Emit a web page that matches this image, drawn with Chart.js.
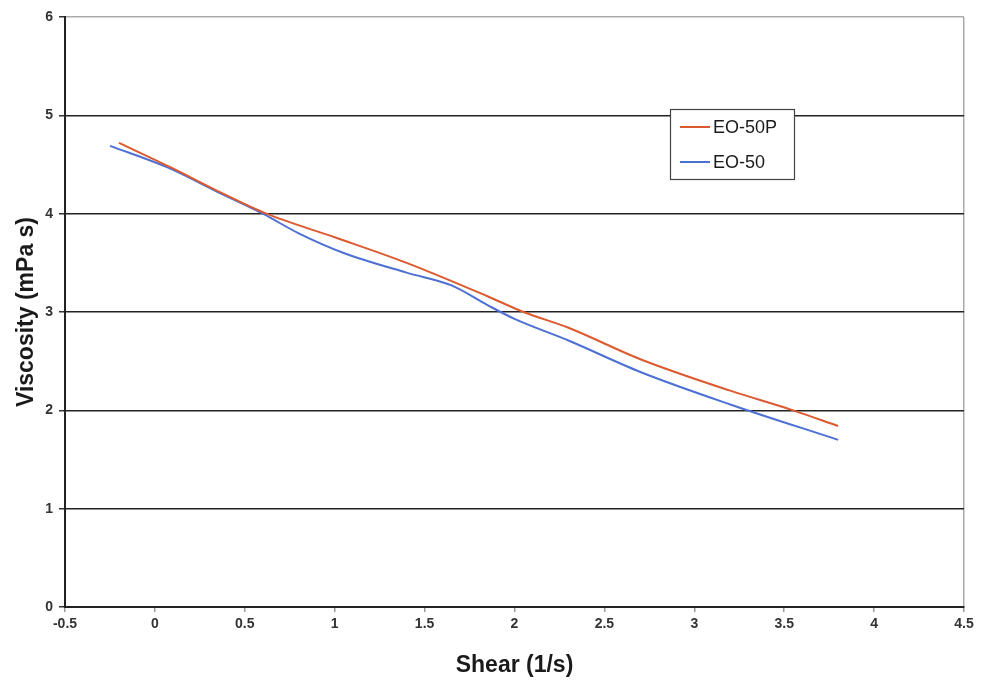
<!DOCTYPE html>
<html>
<head>
<meta charset="utf-8">
<script src="https://cdn.jsdelivr.net/npm/chart.js@4/dist/chart.umd.min.js"></script>
<style>
  html, body { margin: 0; padding: 0; background: #fff; }
  #wrap { width: 981px; height: 680px; }
</style>
</head>
<body>
<div id="wrap"><canvas id="chart" width="981" height="680"></canvas></div>
<script>
// EO-50P run
const eo50pShear = [-0.2, 0.1, 0.35, 0.62, 1.0, 1.4, 1.85, 2.05, 2.3, 2.7, 3.2, 3.55, 3.8]
const eo50pVisc = [4.72, 4.46, 4.23, 4.0, 3.76, 3.5, 3.16, 3.0, 2.84, 2.52, 2.2, 2.0, 1.84]

// EO-50 run
const eo50Shear = [-0.25, 0.07, 0.35, 0.6, 0.8, 1.05, 1.4, 1.65, 1.85, 2.0, 2.3, 2.7, 3.2, 3.8]
const eo50Visc = [4.69, 4.47, 4.22, 4.0, 3.8, 3.6, 3.4, 3.27, 3.07, 2.93, 2.71, 2.39, 2.06, 1.7]

const seriesNames = ['EO-50P', 'EO-50']
const seriesColors = ['#dc5a30', '#4d70d4']

const toPoints = (xs, ys) => xs.map((x, i) => ({ x, y: ys[i] }))

const createDataset = (label, data, color) => ({
  label,
  data,
  showLine: true,
  borderColor: color,
  backgroundColor: color,
  borderWidth: 2,
  pointRadius: 0,
  cubicInterpolationMode: 'monotone',
})

// legend box sitting inside the plot, like the spreadsheet one
const boxLegend = {
  id: 'boxLegend',
  afterDraw(chart) {
    const { ctx } = chart
    const left = 670, top = 109, width = 124, height = 70
    ctx.save()
    ctx.fillStyle = '#fff'
    ctx.fillRect(left, top, width, height)
    ctx.strokeStyle = '#444'
    ctx.lineWidth = 1.2
    ctx.strokeRect(left + 0.5, top + 0.5, width, height)
    ctx.font = '18px "Liberation Sans", Arial, sans-serif'
    ctx.textBaseline = 'middle'
    ctx.fillStyle = '#1a1a1a'
    chart.data.datasets.forEach((ds, i) => {
      const y = top + 18 + i * 35
      ctx.strokeStyle = ds.borderColor
      ctx.lineWidth = 2
      ctx.beginPath()
      ctx.moveTo(left + 10, y)
      ctx.lineTo(left + 40, y)
      ctx.stroke()
      ctx.fillText(ds.label, left + 43, y + 1)
    })
    ctx.restore()
  },
}

const tickFont = { family: '"Liberation Sans", Arial, sans-serif', size: 14, weight: 'bold' }
const titleFont = { family: '"Liberation Sans", Arial, sans-serif', size: 23, weight: 'bold' }

new Chart(document.getElementById('chart'), {
  type: 'scatter',
  data: {
    datasets: [
      createDataset(seriesNames[0], toPoints(eo50pShear, eo50pVisc), seriesColors[0]),
      createDataset(seriesNames[1], toPoints(eo50Shear, eo50Visc), seriesColors[1]),
    ],
  },
  options: {
    responsive: false,
    animation: false,
    layout: { padding: { top: 17, right: 17, left: 0, bottom: 0 } },
    plugins: {
      legend: { display: false },
      tooltip: { enabled: false },
    },
    scales: {
      x: {
        type: 'linear',
        min: -0.5,
        max: 4.5,
        afterFit: (scale) => { scale.height = 73 },
        ticks: {
          stepSize: 0.5,
          color: '#333',
          font: tickFont,
          padding: 4,
          maxRotation: 0,
          callback: (v) => String(v),
        },
        grid: {
          color: (c) => (c.tick && c.tick.value === 4.5 ? '#aaa' : 'rgba(0,0,0,0)'),
          tickColor: '#999',
          tickLength: 5,
          lineWidth: 1.5,
        },
        border: { color: '#222', width: 2 },
        title: {
          display: true,
          text: 'Shear (1/s)',
          color: '#1a1a1a',
          font: titleFont,
          padding: { top: 0, bottom: 1 },
        },
      },
      y: {
        type: 'linear',
        min: 0,
        max: 6,
        afterFit: (scale) => { scale.width = 65 },
        ticks: {
          stepSize: 1,
          color: '#333',
          font: tickFont,
          padding: 6,
        },
        grid: {
          color: (c) => {
            const v = c.tick && c.tick.value
            if (v === 0) return 'rgba(0,0,0,0)'
            if (v === 6) return '#aaa'
            return '#222'
          },
          tickColor: '#333',
          tickLength: 6,
          lineWidth: 1.5,
        },
        border: { color: '#222', width: 2 },
        title: {
          display: true,
          text: 'Viscosity (mPa s)',
          color: '#1a1a1a',
          font: titleFont,
          padding: { top: 13, bottom: 0 },
        },
      },
    },
  },
  plugins: [boxLegend],
})
</script>
</body>
</html>
